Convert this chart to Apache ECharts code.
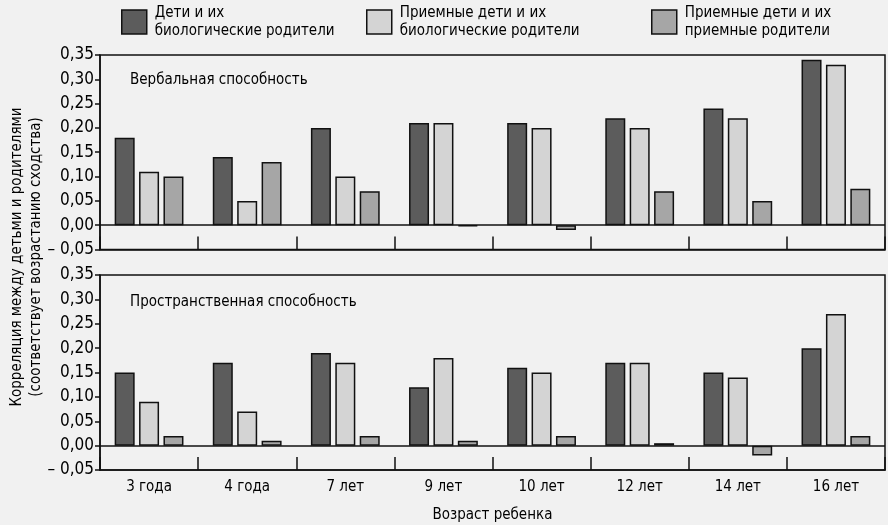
<!DOCTYPE html>
<html>
<head>
<meta charset="utf-8">
<script src="https://cdn.jsdelivr.net/npm/echarts@6/dist/echarts.min.js"></script>
<style>
html,body{margin:0;padding:0;background:#f1f1f1;}
#chart{width:888px;height:525px;}
</style>
</head>
<body>
<div id="chart"></div>
<script>
const categories = ['3 года', '4 года', '7 лет', '9 лет', '10 лет', '12 лет', '14 лет', '16 лет'];
const seriesNames = ['Дети и их\nбиологические родители', 'Приемные дети и их\nбиологические родители', 'Приемные дети и их\nприемные родители'];
const panelTitles = ['Вербальная способность', 'Пространственная способность'];
// Verbal ability
const verbalBioBio = [0.18, 0.14, 0.20, 0.21, 0.21, 0.22, 0.24, 0.34];
const verbalAdoptBio = [0.11, 0.05, 0.10, 0.21, 0.20, 0.20, 0.22, 0.33];
const verbalAdoptAdopt = [0.10, 0.13, 0.07, -0.002, -0.01, 0.07, 0.05, 0.075];
// Spatial ability
const spatialBioBio = [0.15, 0.17, 0.19, 0.12, 0.16, 0.17, 0.15, 0.20];
const spatialAdoptBio = [0.09, 0.07, 0.17, 0.18, 0.15, 0.17, 0.14, 0.27];
const spatialAdoptAdopt = [0.02, 0.01, 0.02, 0.01, 0.02, 0.005, -0.02, 0.02];
const yTicks = { min: -0.05, max: 0.35, interval: 0.05 };
const yAxisTitle = 'Корреляция между детьми и родителями\n(соответствует возрастанию сходства)';
const xAxisTitle = 'Возраст ребенка';

const FONT = "'DejaVu Sans Condensed', 'Liberation Sans', sans-serif";
const TXT = '#000';
const colors = ['#5c5c5c', '#d4d4d4', '#a6a6a6'];

function fmt(v) {
  const s = Math.abs(v).toFixed(2).replace('.', ',');
  return v < -1e-9 ? '– ' + s : s;
}

const grids = [
  { left: 100, right: 3, top: 55, height: 194.5, show: true, borderColor: '#111', borderWidth: 1.5 },
  { left: 100, right: 3, top: 275, height: 195, show: true, borderColor: '#111', borderWidth: 1.5 }
];

function xAxis(i) {
  return {
    type: 'category', gridIndex: i, data: categories, position: 'bottom',
    axisLine: { show: true, onZero: false, lineStyle: { color: '#111', width: 1.5 } },
    axisTick: { show: true, inside: true, length: 13, lineStyle: { color: '#111', width: 1.5 } },
    axisLabel: { show: i === 1, fontFamily: FONT, fontSize: 15, color: TXT, margin: 10 },
    name: i === 1 ? xAxisTitle : '',
    nameLocation: 'middle', nameGap: 38,
    nameTextStyle: { fontFamily: FONT, fontSize: 15, color: TXT }
  };
}
function yAxis(i) {
  return {
    type: 'value', gridIndex: i, min: yTicks.min, max: yTicks.max, interval: yTicks.interval,
    axisLine: { show: true, lineStyle: { color: '#111', width: 1.5 } },
    axisTick: { show: true, length: 5, lineStyle: { color: '#111', width: 1.5 } },
    splitLine: { show: false },
    axisLabel: { fontFamily: FONT, fontSize: 17, color: TXT, margin: 6, formatter: fmt }
  };
}

const panels = [
  [verbalBioBio, verbalAdoptBio, verbalAdoptAdopt],
  [spatialBioBio, spatialAdoptBio, spatialAdoptAdopt]
];
const series = [];
panels.forEach((arrs, gi) => {
  arrs.forEach((arr, si) => {
    const s = {
      type: 'bar', name: seriesNames[si], xAxisIndex: gi, yAxisIndex: gi,
      data: arr, barWidth: 20, barGap: '22%',
      itemStyle: { color: colors[si], borderColor: '#111', borderWidth: 1.5 },
      silent: true
    };
    if (si === 0) {
      s.markLine = {
        silent: true, symbol: 'none', label: { show: false },
        lineStyle: { color: '#111', width: 1.5, type: 'solid' },
        data: [{ yAxis: 0 }]
      };
    }
    series.push(s);
  });
});

const legendLefts = [121, 366, 651];
const legends = seriesNames.map((n, i) => ({
  data: [n], left: legendLefts[i], top: 4, padding: 0, icon: 'rect',
  itemWidth: 25, itemHeight: 24, selectedMode: false,
  itemStyle: { borderColor: '#111', borderWidth: 1.5 },
  textStyle: { fontFamily: FONT, fontSize: 15, lineHeight: 18, color: TXT, padding: [0, 0, 0, 3] }
}));

const chart = echarts.init(document.getElementById('chart'));
chart.setOption({
  backgroundColor: '#f1f1f1',
  animation: false,
  title: panelTitles.map((t, i) => ({
    text: t, left: 125, top: i === 0 ? 68 : 290,
    textStyle: { fontFamily: FONT, fontSize: 15, fontWeight: 'normal', color: TXT }
  })),
  legend: legends,
  grid: grids,
  xAxis: [xAxis(0), xAxis(1)],
  yAxis: [yAxis(0), yAxis(1)],
  series: series,
  graphic: [{
    type: 'text', x: 27, y: 257, rotation: Math.PI / 2,
    style: { text: yAxisTitle, fontFamily: FONT, fontSize: 15, lineHeight: 19, fill: TXT, align: 'center', verticalAlign: 'middle' }
  }]
});
</script>
</body>
</html>
